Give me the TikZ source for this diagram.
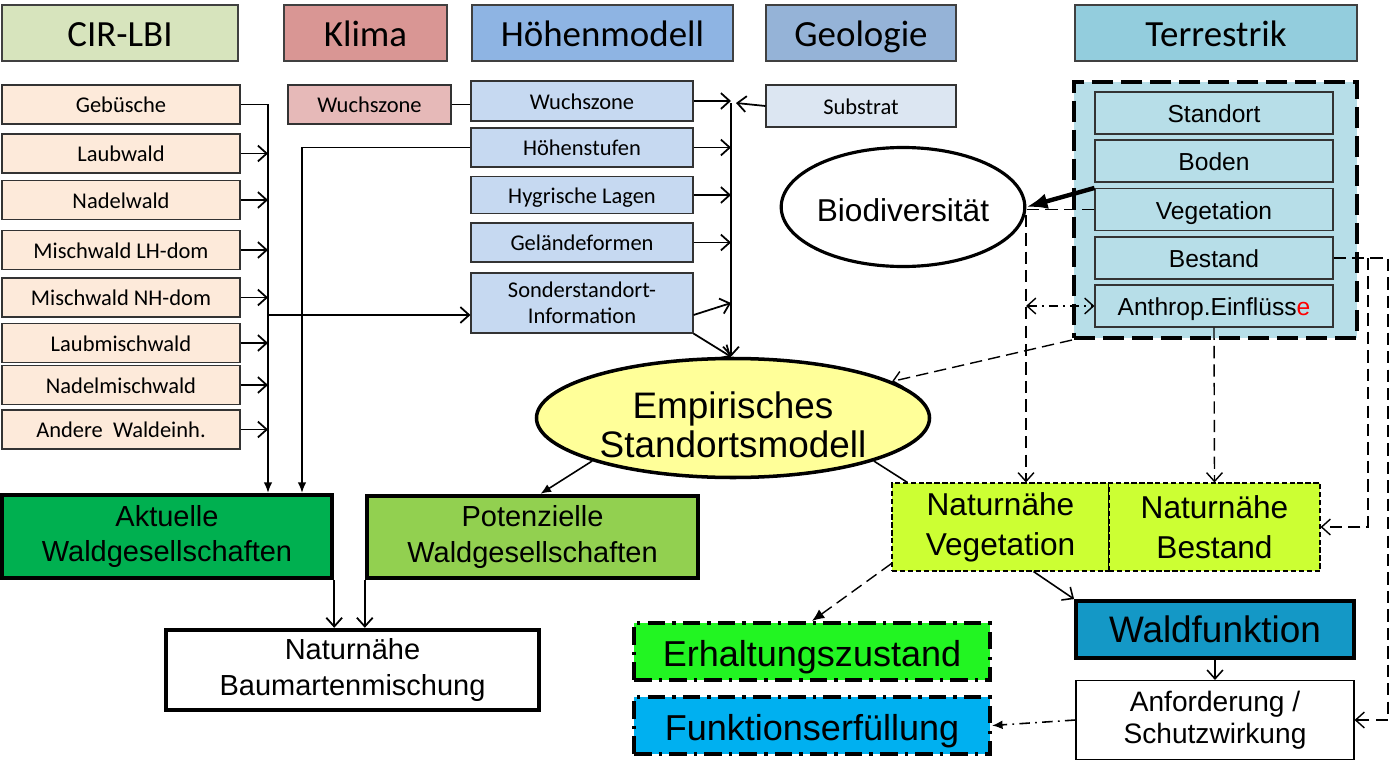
\documentclass[tikz,border=0pt]{standalone}
\usepackage{fontspec}
\setmainfont{Liberation Sans}
\newfontfamily\calib{Carlito}
\usetikzlibrary{arrows.meta, calc, shapes.geometric}

\newlength{\pxu}\setlength{\pxu}{0.02cm}

\definecolor{hcir}{HTML}{D7E4BD}
\definecolor{hklima}{HTML}{D99694}
\definecolor{hhoehe}{HTML}{8EB4E3}
\definecolor{hgeo}{HTML}{95B3D7}
\definecolor{hterr}{HTML}{93CDDD}
\definecolor{lbifill}{HTML}{FDEADA}
\definecolor{kfill}{HTML}{E6B9B8}
\definecolor{hmfill}{HTML}{C6D9F1}
\definecolor{subfill}{HTML}{DCE6F2}
\definecolor{terrfill}{HTML}{B7DEE8}
\definecolor{esmfill}{HTML}{FFFF99}
\definecolor{aktfill}{HTML}{00B050}
\definecolor{potfill}{HTML}{92D050}
\definecolor{nahfill}{HTML}{CCFF33}
\definecolor{wffill}{HTML}{1498C6}
\definecolor{erhfill}{HTML}{22F522}
\definecolor{funfill}{HTML}{00B0F0}

\begin{document}
\begin{tikzpicture}[
  x=0.02cm, y=-0.02cm,
  >={Straight Barb[length=5pt, width=9pt]},
  hdr/.style={draw=black!75, line width=0.6pt, minimum width=#1, minimum height=56\pxu,
    inner sep=0pt, text height=15.5pt, text depth=0pt, font=\calib\fontsize{21}{24}\selectfont},
  lbi/.style={draw=black!80, fill=lbifill, line width=0.6pt, minimum width=238\pxu,
    minimum height=39\pxu, inner sep=0pt, text height=9.6pt, text depth=0pt,
    font=\calib\fontsize{12.8}{15}\selectfont},
  hm/.style={draw=black!80, fill=hmfill, line width=0.6pt, minimum width=222\pxu,
    inner sep=0pt, align=center, font=\calib\fontsize{12.8}{14.7}\selectfont},
  terr/.style={draw=black!80, fill=terrfill, line width=0.6pt, minimum width=238\pxu,
    minimum height=42\pxu, inner sep=0pt, text height=11pt, text depth=0pt,
    font=\fontsize{14}{16}\selectfont},
  wg/.style={draw, line width=2.5pt, align=center, inner sep=0pt,
    font=\fontsize{16.5}{20}\selectfont},
  nah/.style={draw, fill=nahfill, line width=0.6pt, dash pattern=on 3pt off 1.5pt,
    minimum height=88\pxu, inner sep=0pt, align=center, font=\fontsize{18}{22.7}\selectfont},
  ziel/.style={draw, line width=2.3pt, dash pattern=on 10pt off 4pt on 2pt off 4pt,
    minimum width=356\pxu, minimum height=57\pxu, inner sep=0pt, text height=17.5pt, text depth=0pt,
    font=\fontsize{20.5}{24}\selectfont},
  link/.style={line width=1pt},
  dsh/.style={line width=0.8pt, dash pattern=on 7pt off 3.5pt}
]
\useasboundingbox (0,0) rectangle (1390,774);

% data sources
\node[hdr={236\pxu}, fill=hcir] (hcir) at (120,33) {CIR-LBI};
\node[hdr={163\pxu}, fill=hklima] (hklima) at (365.5,33) {Klima};
\node[hdr={261\pxu}, fill=hhoehe] (hhoehe) at (602.5,33) {Höhenmodell};
\node[hdr={190\pxu}, fill=hgeo] (hgeo) at (861,33) {Geologie};
\node[hdr={282\pxu}, fill=hterr] (hterr) at (1216,33) {Terrestrik};

% CIR-LBI units
\node[lbi] (geb) at (121,104.5) {Gebüsche};
\node[lbi] (lbw) at (121,153.5) {Laubwald};
\node[lbi] (ndw) at (121,200) {Nadelwald};
\node[lbi] (mlh) at (121,250) {Mischwald LH-dom};
\node[lbi] (mnh) at (121,297.5) {Mischwald NH-dom};
\node[lbi] (lmw) at (121,343) {Laubmischwald};
\node[lbi] (nmw) at (121,385) {Nadelmischwald};
\node[lbi] (awe) at (121,429.5) {Andere\ \ Waldeinh.};

% Klima / Hoehenmodell / Geologie
\node[lbi, fill=kfill, minimum width=163\pxu] (kwz) at (369.5,104.5) {Wuchszone};
\node[hm, minimum height=40\pxu, text height=9.6pt, text depth=0pt] (wz) at (582,101) {Wuchszone};
\node[hm, minimum height=39\pxu, text height=9.6pt, text depth=0pt] (hst) at (582,147.5) {Höhenstufen};
\node[hm, minimum height=37\pxu, text height=9.6pt, text depth=0pt] (hyg) at (582,195) {Hygrische Lagen};
\node[hm, minimum height=39\pxu, text height=9.6pt, text depth=0pt] (gel) at (582,242.5) {Geländeformen};
\node[hm, minimum height=60\pxu] (sso) at (582,303) {Sonderstandort-\\Information};
\node[hm, fill=subfill, minimum width=190\pxu, minimum height=42\pxu, text height=9.6pt, text depth=0pt] (sub) at (861,106) {Substrat};

% Terrestrik block
\node[draw, line width=2.3pt, dash pattern=on 12pt off 4.5pt, fill=terrfill,
  minimum width=283\pxu, minimum height=256\pxu] (terrbox) at (1215.5,210) {};
\node[terr] (std) at (1214,113) {Standort};
\node[terr] (bod) at (1214,161) {Boden};
\node[terr] (veg) at (1214,209.5) {Vegetation};
\node[terr] (best) at (1214,258) {Bestand};
\node[terr] (anth) at (1214,306) {Anthrop.Einflüss\textcolor{red}{e}};

\node[ellipse, draw, line width=1.8pt, fill=white, minimum width=223\pxu, minimum height=119\pxu,
  inner sep=0pt, text height=17pt, text depth=0pt, font=\fontsize{18}{20}\selectfont] (bio) at (903,207) {Biodiversität};

% model
\node[ellipse, draw, line width=2pt, fill=esmfill, minimum width=393\pxu, minimum height=119\pxu,
  inner sep=0pt] (esm) at (733,418) {};
\node[align=center, inner sep=0pt, font=\fontsize{21}{22}\selectfont] (esmtxt) at (733,425) {Empirisches\\Standortsmodell};

% results
\node[wg, fill=aktfill, minimum width=330\pxu, minimum height=83\pxu] (akt) at (167,536.5) {Aktuelle\\Waldgesellschaften};
\node[wg, fill=potfill, minimum width=331\pxu, minimum height=82\pxu] (pot) at (532.5,537) {Potenzielle\\Waldgesellschaften};
\node[wg, fill=white, minimum width=373\pxu, minimum height=80\pxu] (bam) at (352.5,670) {Naturnähe\\Baumartenmischung};

\node[nah, minimum width=217\pxu] (nv) at (1000.5,527) {Naturnähe\\Vegetation};
\node[nah, minimum width=211\pxu] (nb) at (1214.5,527) {Naturnähe\\Bestand};
\node[draw, line width=2.2pt, fill=wffill, minimum width=278\pxu, minimum height=57\pxu,
  inner sep=0pt, text height=15.3pt, text depth=0pt, font=\fontsize{21}{24}\selectfont] (wf) at (1215,629.5) {Waldfunktion};
\node[draw, line width=0.6pt, fill=white, align=center, minimum width=278\pxu, minimum height=79\pxu,
  inner sep=0pt, font=\fontsize{16}{18}\selectfont] (anf) at (1215,720) {Anforderung /\\Schutzwirkung};
\node[ziel, fill=erhfill] (erh) at (812,651.5) {Erhaltungszustand};
\node[ziel, fill=funfill] (fun) at (812,725.5) {Funktionserfüllung};

% collector lines
\coordinate (colA) at (268,104.5);
\coordinate (colB) at (302,147.5);
\coordinate (colC) at (731,103);
\coordinate (colD) at (1026,209.5);
\coordinate (colE) at (1368,258);
\coordinate (colF) at (1388,258);
\coordinate (jS) at (268,315);

\draw[link, -{Latex[length=6pt, width=5pt]}] (geb.east) -- (colA) -- (colA |- akt.north);
\draw[link, ->] (lbw.east) -- (lbw.east -| colA);
\draw[link, ->] (ndw.east) -- (ndw.east -| colA);
\draw[link, ->] (mlh.east) -- (mlh.east -| colA);
\draw[link, ->] (mnh.east) -- (mnh.east -| colA);
\draw[link, ->] (lmw.east) -- (lmw.east -| colA);
\draw[link, ->] (nmw.east) -- (nmw.east -| colA);
\draw[link, ->] (awe.east) -- (awe.east -| colA);
\draw[link, -{Latex[length=6pt, width=5pt]}] (hst.west) -- (colB) -- (colB |- akt.north);
\draw[link, ->] (jS) -- (jS -| sso.west);
\draw[link] (kwz.east) -- (kwz.east -| wz.west);

\draw[link, ->] (colC) -- (colC |- esm.north);
\draw[link, ->] (wz.east) -- (wz.east -| colC);
\draw[link, ->] (hst.east) -- (hst.east -| colC);
\draw[link, ->] (hyg.east) -- (hyg.east -| colC);
\draw[link, ->] (gel.east) -- (gel.east -| colC);
\draw[link, ->] ($(sso.east)+(0,12)$) -- (colC |- sso.east);
\draw[link, ->] (sso.south east) -- (colC |- esm.north);
\draw[link, ->] (sub.west) -- ($(colC)+(5,0)$);

% Terrestrik links
\draw[line width=2.5pt, -{Latex[length=12pt, width=9pt]}] (veg.north west) -- (bio.east);
\draw[dsh, ->] (veg.west) -- (colD) -- (colD |- nv.north);
\draw[line width=0.8pt, dash pattern=on 5pt off 3pt on 1pt off 3pt, <->] (colD |- anth.west) -- (anth.west);
\draw[dsh, ->] (terrbox.south west) -- (esm);
\draw[dsh, ->] (anth.south) -- (nb.north);
\draw[dsh, ->] (best.east) -- (colF) -- (colF |- anf.east) -- (anf.east);
\draw[dsh, ->] (colE) -- (colE |- nb.east) -- (nb.east);

% model outputs
\draw[line width=0.9pt, -{Latex[length=6pt, width=5pt]}] (esm.197) -- ($(pot.north)+(8,0)$);
\draw[line width=0.9pt] (esm.-17) -- ($(nv.north west)+(16,0)$);
\draw[link, ->] (akt.south east) -- (akt.south east |- bam.north);
\draw[link, ->] (pot.south west) -- (pot.south west |- bam.north);

\draw[dsh, -{Latex[length=7pt, width=6pt]}] ($(nv.south west)+(0,-8)$) -- (erh.north);
\draw[line width=0.9pt, ->] ($(nv.south)+(33,0)$) -- (wf.north west);
\draw[line width=0.9pt, ->] (wf.south) -- (anf.north);
\draw[line width=0.9pt, dash pattern=on 6pt off 3pt on 1pt off 3pt, -{Latex[length=6pt, width=5pt]}] (anf.west) -- (fun.east);

\end{tikzpicture}
\end{document}
